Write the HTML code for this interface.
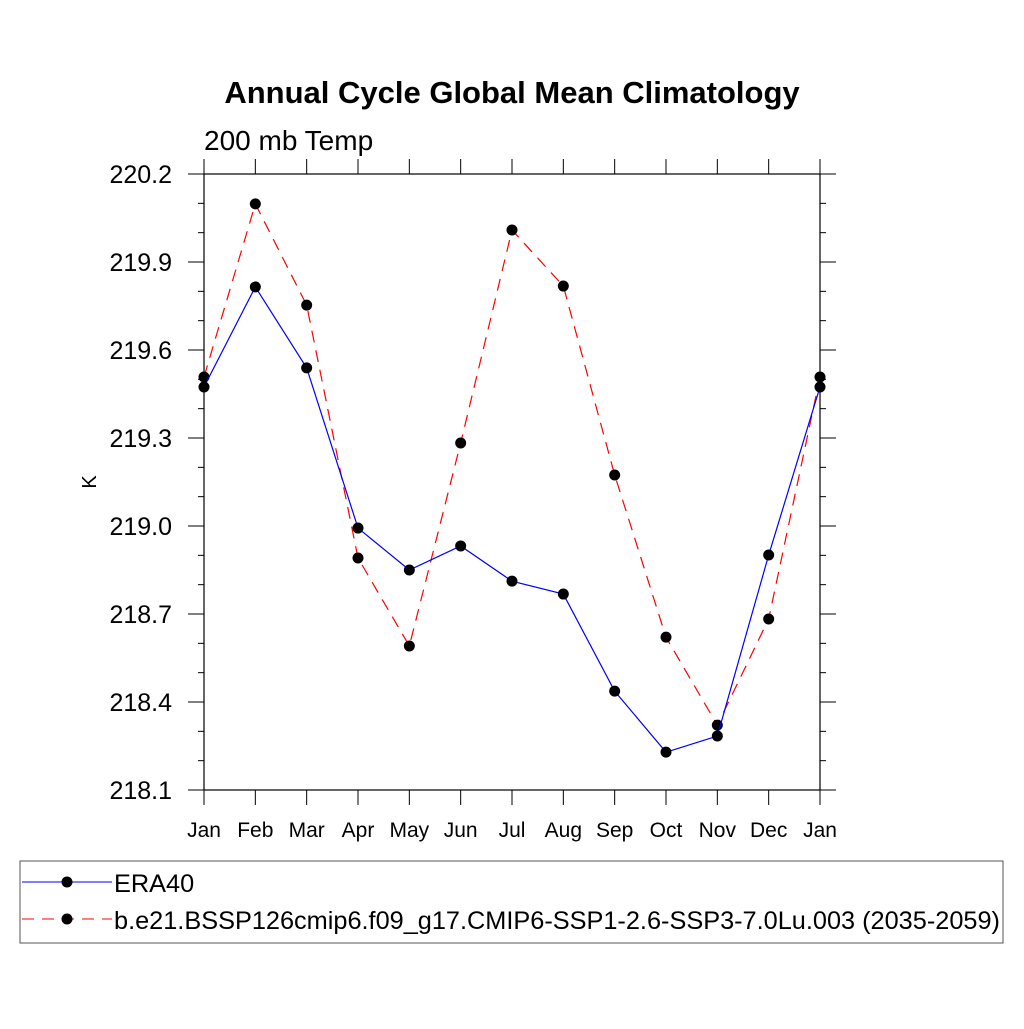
<!DOCTYPE html>
<html><head><meta charset="utf-8"><style>
body{margin:0;background:#fff}
svg text{font-family:"Liberation Sans",sans-serif}
</style></head><body>
<svg width="1024" height="1024">
<text x="512" y="103" font-size="31" font-weight="bold" text-anchor="middle">Annual Cycle Global Mean Climatology</text>
<text x="204" y="150" font-size="28">200 mb Temp</text>
<text x="96" y="482" font-size="20" text-anchor="middle" transform="rotate(-90 96 482)">K</text>
<g id="axes"></g>
<g id="series"></g>
<rect x="20" y="861" width="983" height="82" fill="none" stroke="#555" stroke-width="1"/>
<g>
<line x1="22" y1="882" x2="112" y2="882" stroke="#00f" stroke-width="1"/>
<circle cx="67" cy="882" r="5.5" fill="#000"/>
<text x="114" y="892" font-size="25.3">ERA40</text></g>
<g>
<line x1="22" y1="919" x2="112" y2="919" stroke="#f00" stroke-width="1" stroke-dasharray="12,8"/>
<circle cx="67" cy="919" r="5.5" fill="#000"/>
<text x="114" y="929" font-size="25.3">b.e21.BSSP126cmip6.f09_g17.CMIP6-SSP1-2.6-SSP3-7.0Lu.003 (2035-2059)</text></g>
</svg>
<script>
const months=["Jan","Feb","Mar","Apr","May","Jun","Jul","Aug","Sep","Oct","Nov","Dec","Jan"];
const era40=[219.474,219.815,219.539,218.993,218.85,218.932,218.812,218.768,218.437,218.229,218.284,218.901,219.474];
const model=[219.508,220.098,219.753,218.891,218.591,219.283,220.009,219.818,219.174,218.621,218.321,218.683,219.508];
const yTicks=["218.1","218.4","218.7","219.0","219.3","219.6","219.9","220.2"];
const X0=204,X1=820,Y0=790,Y1=174,YMIN=218.1,YMAX=220.2;
const xs=i=>X0+(X1-X0)*i/(months.length-1);
const ys=v=>Y0-(v-YMIN)/(YMAX-YMIN)*(Y0-Y1);
const NS="http://www.w3.org/2000/svg";
function mk(t,a,p){const e=document.createElementNS(NS,t);for(const k in a)e.setAttribute(k,a[k]);p.appendChild(e);return e;}
const ax=document.getElementById('axes');
const fr=mk('rect',{x:X0,y:Y1,width:X1-X0,height:Y0-Y1,fill:'none',stroke:'#000','stroke-width':1.2},ax);


for(let v=0;v<=21;v++){const val=YMIN+v*0.1,y=ys(val),maj=v%3===0,L=maj?16:6;
 mk('line',{x1:X0-L,y1:y,x2:X0,y2:y,stroke:'#000'},ax);
 mk('line',{x1:X1,y1:y,x2:X1+L,y2:y,stroke:'#000'},ax);}
yTicks.forEach(t=>{const tx=mk('text',{x:X0-32,y:ys(parseFloat(t))+9,'font-size':25,'text-anchor':'end'},ax);tx.textContent=t;
 
 });
months.forEach((m,i)=>{const x=xs(i);
 mk('line',{x1:x,y1:Y0,x2:x,y2:Y0+15,stroke:'#000'},ax);
 mk('line',{x1:x,y1:Y1-15,x2:x,y2:Y1,stroke:'#000'},ax);
 const tx=mk('text',{x:x,y:837,'font-size':21,'text-anchor':'middle'},ax);tx.textContent=m;
 
 });
const sg=document.getElementById('series');
function draw(vals,color,dash,name){
 const pl=mk('polyline',{points:vals.map((v,i)=>xs(i)+','+ys(v)).join(' '),fill:'none',stroke:color,'stroke-width':1.2,'stroke-dasharray':dash},sg);
 
 
 vals.forEach((v,i)=>{const c=mk('circle',{cx:xs(i),cy:ys(v),r:5.5,fill:'#000'},sg);
  
  });}
draw(model,'#f00','12,8','model');
draw(era40,'#00f','none','era40');
</script>
</body></html>
